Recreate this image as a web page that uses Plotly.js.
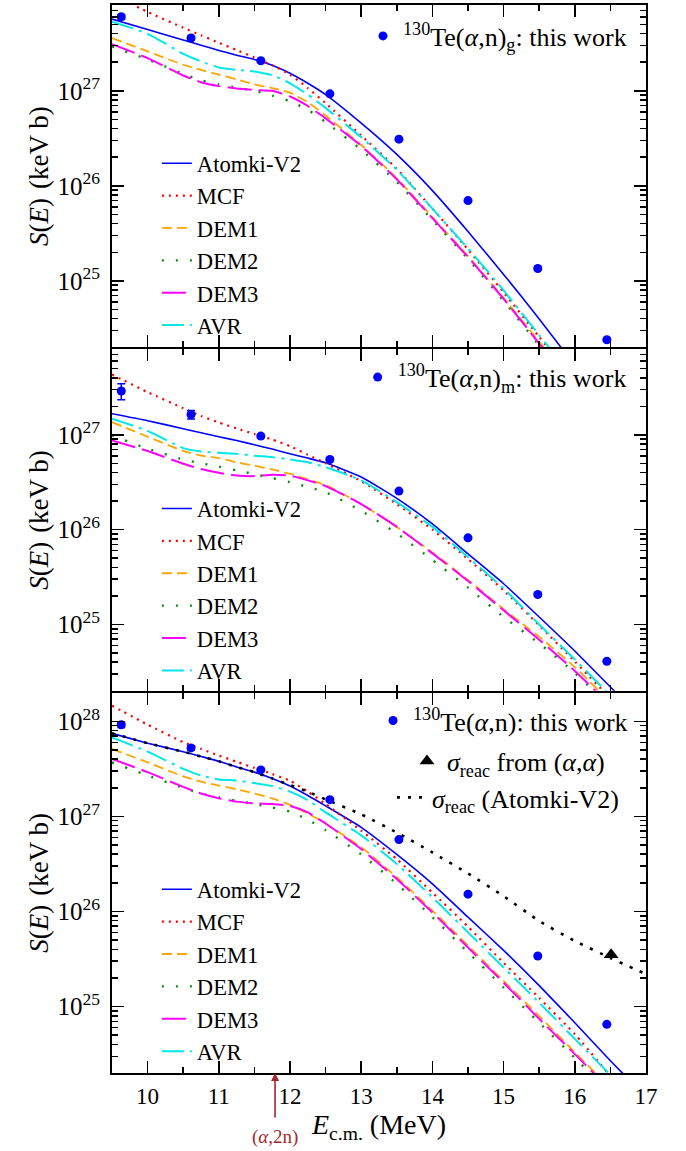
<!DOCTYPE html>
<html><head><meta charset="utf-8">
<script src="https://cdn.plot.ly/plotly-3.0.1.min.js"></script>
<style>html,body{margin:0;padding:0;background:#fff}</style>
</head><body><div id="chart" style="width:686px;height:1151px"></div>
<script>
// ---------- energy grid of the model curves (MeV) ----------
const energyGrid = [9.5, 10.0, 10.5, 10.75, 11.0, 11.25, 11.5, 11.75, 12.0, 12.25, 12.5, 13.0, 13.5, 14.0, 14.5, 15.0, 15.5, 16.0, 16.5, 17.0];

// ---------- top panel: 130Te(a,n)g ----------
const gAtomki = [5.69e27, 4.42e27, 3.43e27, 3.02e27, 2.66e27, 2.37e27, 2.14e27, 1.86e27, 1.53e27, 1.20e27, 9.12e26, 4.57e26, 2.14e26, 8.91e25, 3.31e25, 1.17e25, 3.98e24, 1.29e24];
const gMCF    = [1.05e28, 6.76e27, 4.62e27, 3.85e27, 3.20e27, 2.69e27, 2.24e27, 1.86e27, 1.48e27, 1.07e27, 7.41e26, 3.39e26, 1.51e26, 5.75e25, 2.14e25, 7.59e24, 2.57e24, 8.91e23];
const gDEM1   = [3.59e27, 2.60e27, 1.88e27, 1.66e27, 1.48e27, 1.32e27, 1.17e27, 1.07e27, 9.55e26, 7.59e26, 5.50e26, 2.69e26, 1.20e26, 4.68e25, 1.82e25, 6.61e24, 2.29e24, 7.94e23];
const gDEM2   = [2.92e27, 2.14e27, 1.51e27, 1.29e27, 1.17e27, 1.08e27, 1.00e27, 8.91e26, 7.76e26, 6.31e26, 4.68e26, 2.40e26, 1.10e26, 4.37e25, 1.70e25, 6.17e24, 2.09e24, 7.24e23];
const gDEM3   = [3.09e27, 2.21e27, 1.45e27, 1.23e27, 1.12e27, 1.06e27, 1.02e27, 1.00e27, 8.71e26, 6.92e26, 5.13e26, 2.63e26, 1.17e26, 4.57e25, 1.78e25, 6.46e24, 2.19e24, 7.59e23];
const gAVR    = [5.33e27, 3.98e27, 2.45e27, 2.04e27, 1.76e27, 1.66e27, 1.60e27, 1.46e27, 1.20e27, 9.12e26, 6.61e26, 3.24e26, 1.48e26, 5.75e25, 2.19e25, 7.94e24, 2.69e24, 9.12e23];

// ---------- middle panel: 130Te(a,n)m ----------
const mAtomki = [1.67e27, 1.41e27, 1.16e27, 1.05e27, 9.55e26, 8.71e26, 7.85e26, 7.08e26, 6.31e26, 5.69e26, 5.07e26, 3.59e26, 2.14e26, 1.15e26, 5.56e25, 2.69e25, 1.20e25, 5.25e24, 2.19e24, 9.12e23];
const mMCF    = [4.32e27, 2.82e27, 1.91e27, 1.58e27, 1.35e27, 1.17e27, 1.02e27, 8.91e26, 7.59e26, 6.17e26, 5.01e26, 3.24e26, 1.86e26, 1.00e26, 4.90e25, 2.29e25, 9.77e24, 4.07e24, 1.66e24];
const mDEM1   = [1.36e27, 9.55e26, 6.76e26, 6.03e26, 5.69e26, 5.13e26, 4.73e26, 4.32e26, 3.89e26, 3.39e26, 2.95e26, 1.86e26, 1.07e26, 5.75e25, 2.95e25, 1.45e25, 7.41e24, 3.55e24, 1.51e24];
const mDEM2   = [9.89e26, 7.16e26, 5.50e26, 5.01e26, 4.62e26, 4.22e26, 3.85e26, 3.51e26, 3.16e26, 2.82e26, 2.48e26, 1.58e26, 9.12e25, 4.79e25, 2.45e25, 1.20e25, 6.31e24, 3.09e24, 1.32e24];
const mDEM3   = [8.71e26, 6.76e26, 4.95e26, 4.37e26, 3.98e26, 3.72e26, 3.67e26, 3.80e26, 3.72e26, 3.31e26, 2.88e26, 1.86e26, 1.07e26, 5.62e25, 2.88e25, 1.41e25, 6.92e24, 3.24e24, 1.41e24];
const mAVR    = [1.48e27, 1.10e27, 7.24e26, 6.68e26, 6.46e26, 6.31e26, 6.03e26, 5.82e26, 5.50e26, 5.13e26, 4.57e26, 3.31e26, 1.95e26, 1.07e26, 5.13e25, 2.40e25, 1.00e25, 4.27e24, 1.78e24];

// ---------- bottom panel: 130Te(a,n) total ----------
const tAtomki = [7.48e27, 5.89e27, 4.79e27, 4.27e27, 3.80e27, 3.31e27, 2.92e27, 2.51e27, 2.09e27, 1.66e27, 1.29e27, 7.67e26, 3.98e26, 1.95e26, 8.71e25, 3.89e25, 1.66e25, 6.76e24, 2.69e24, 1.12e24];
const tMCF    = [1.46e28, 9.23e27, 6.03e27, 5.13e27, 4.37e27, 3.76e27, 3.24e27, 2.79e27, 2.37e27, 1.82e27, 1.35e27, 7.08e26, 3.55e26, 1.58e26, 6.92e25, 2.88e25, 1.23e25, 5.13e24, 1.86e24];
const tDEM1   = [5.12e27, 3.70e27, 2.63e27, 2.32e27, 2.11e27, 1.93e27, 1.74e27, 1.55e27, 1.32e27, 1.07e27, 8.41e26, 4.73e26, 2.29e26, 1.02e26, 4.37e25, 1.86e25, 7.94e24, 3.31e24, 1.38e24];
const tDEM2   = [3.70e27, 2.69e27, 2.00e27, 1.74e27, 1.58e27, 1.46e27, 1.35e27, 1.24e27, 1.12e27, 9.23e26, 7.16e26, 3.98e26, 1.95e26, 8.71e25, 3.72e25, 1.58e25, 6.76e24, 2.88e24, 1.23e24];
const tDEM3   = [4.02e27, 2.92e27, 2.04e27, 1.74e27, 1.55e27, 1.43e27, 1.37e27, 1.35e27, 1.29e27, 1.10e27, 8.41e26, 4.53e26, 2.19e26, 9.77e25, 4.17e25, 1.78e25, 7.41e24, 3.16e24, 1.32e24];
const tAVR    = [6.76e27, 4.79e27, 3.16e27, 2.69e27, 2.45e27, 2.38e27, 2.24e27, 2.09e27, 1.82e27, 1.48e27, 1.10e27, 6.31e26, 3.16e26, 1.41e26, 6.03e25, 2.57e25, 1.10e25, 4.57e24, 1.91e24];
const tSigmaReac = [7.48e27, 5.89e27, 4.79e27, 4.27e27, 3.80e27, 3.31e27, 2.92e27, 2.51e27, 2.14e27, 1.82e27, 1.51e27, 1.05e27, 6.76e26, 4.17e26, 2.51e26, 1.45e26, 7.94e25, 4.90e25, 3.24e25, 2.19e25];

// ---------- measured points ----------
const dataEnergy = [9.63, 10.61, 11.59, 12.56, 13.53, 14.50, 15.48, 16.45];
const gData = [6.0e27, 3.6e27, 2.07e27, 9.3e26, 3.1e26, 7.0e25, 1.35e25, 2.4e24];
const gErr  = [0.35e27, 0.15e27, 0.07e27, 0.3e26, 0.1e26, 0.2e25, 0.04e25, 0.08e24];
const mData = [2.9e27, 1.64e27, 9.7e26, 5.5e26, 2.55e26, 8.2e25, 2.07e25, 4.1e24];
const mErr  = [0.55e27, 0.17e27, 0.4e26, 0.2e26, 0.08e26, 0.25e25, 0.06e25, 0.12e24];
const tData = [9.2e27, 5.25e27, 3.08e27, 1.5e27, 5.7e26, 1.52e26, 3.4e25, 6.5e24];
const tErr  = [0.6e27, 0.25e27, 0.1e27, 0.5e26, 0.15e26, 0.4e25, 0.09e25, 0.18e24];
const elasticEnergy = [16.51];
const elasticSigmaReac = [3.5e25];
const alpha2nThreshold = 11.79;

// ---------- labels ----------
const modelNames = ['Atomki-V2', 'MCF', 'DEM1', 'DEM2', 'DEM3', 'AVR'];
const panelLabels = [
  '<sup>130</sup>Te(<i>α</i>,n)<sub>g</sub>: this work',
  '<sup>130</sup>Te(<i>α</i>,n)<sub>m</sub>: this work',
  '<sup>130</sup>Te(<i>α</i>,n): this work'
];
const sigmaFromElastic = '<i>σ</i><sub>reac</sub> from (<i>α</i>,<i>α</i>)';
const sigmaAtomki = '<i>σ</i><sub>reac</sub> (Atomki-V2)';
const yTitle = '<i>S</i>(<i>E</i>) \u200a(keV b)';
const xTitle = '<i>E</i><sub>c.m.</sub> (MeV)';
const xTickVals = [10, 11, 12, 13, 14, 15, 16, 17];

const FONT = 'Liberation Serif';
const modelStyles = [
  {color: '#0000ff', width: 1.6, dash: 'solid'},
  {color: '#ff0000', width: 2.2, dash: '2px,5px'},
  {color: '#ffa500', width: 1.8, dash: '10px,5px'},
  {color: '#0a8a0a', width: 2.4, dash: '2px,12px'},
  {color: '#ff00ff', width: 2.0, dash: '24px,7px'},
  {color: '#00e8e8', width: 2.0, dash: '22px,6px,3px,6px'}
];

function modelTraces(series, xa, ya, legendId) {
  return series.map((vals, i) => ({
    type: 'scatter', mode: 'lines', x: energyGrid, y: vals,
    xaxis: xa, yaxis: ya, name: modelNames[i], legend: legendId,
    line: Object.assign({shape: 'spline', smoothing: 0.5}, modelStyles[i]),
    hoverinfo: 'skip'
  }));
}
function dataTrace(y, err, xa, ya, legendId, name) {
  return {
    type: 'scatter', mode: 'markers', x: dataEnergy, y: y, xaxis: xa, yaxis: ya,
    name: name, legend: legendId,
    marker: {color: '#0000ff', size: 9},
    error_y: {type: 'data', array: err, visible: true, color: '#0000ff', thickness: 1.5, width: 4},
    hoverinfo: 'skip'
  };
}

const traces = [].concat(
  modelTraces([gAtomki, gMCF, gDEM1, gDEM2, gDEM3, gAVR], 'x', 'y', 'legend'),
  modelTraces([mAtomki, mMCF, mDEM1, mDEM2, mDEM3, mAVR], 'x2', 'y2', 'legend3'),
  modelTraces([tAtomki, tMCF, tDEM1, tDEM2, tDEM3, tAVR], 'x3', 'y3', 'legend5'),
  [{
    type: 'scatter', mode: 'lines', x: energyGrid, y: tSigmaReac, xaxis: 'x3', yaxis: 'y3',
    name: sigmaAtomki, legend: 'legend8',
    line: {color: '#000000', width: 2.6, dash: '3px,8px', shape: 'spline', smoothing: 0.5},
    hoverinfo: 'skip'
  },
  dataTrace(gData, gErr, 'x', 'y', 'legend2', panelLabels[0]),
  dataTrace(mData, mErr, 'x2', 'y2', 'legend4', panelLabels[1]),
  dataTrace(tData, tErr, 'x3', 'y3', 'legend6', panelLabels[2]),
  {
    type: 'scatter', mode: 'markers', x: elasticEnergy, y: elasticSigmaReac, xaxis: 'x3', yaxis: 'y3',
    name: sigmaFromElastic, legend: 'legend7',
    marker: {color: '#000000', size: 13, symbol: 'triangle-up'},
    hoverinfo: 'skip'
  }]
);

function xAxis(anchor, showLabels) {
  const a = {
    anchor: anchor, domain: [0, 1], range: [9.5, 17],
    showline: true, linecolor: '#000', linewidth: 2, mirror: 'ticks',
    ticks: 'inside', ticklen: 12, tickwidth: 1.5, tickcolor: '#000',
    tickvals: xTickVals, showticklabels: showLabels,
    minor: {ticks: 'inside', ticklen: 6, tickwidth: 1.5, tickcolor: '#000', dtick: 0.5, tick0: 9.5},
    showgrid: false, zeroline: false,
    tickfont: {family: FONT, size: 23, color: '#000'}, ticklabelstandoff: 1
  };
  if (showLabels) a.title = {text: xTitle, font: {family: FONT, size: 28, color: '#000'}, standoff: 7};
  return a;
}
function yAxis(anchor, domain, range) {
  return {
    anchor: anchor, domain: domain, type: 'log', range: range,
    showline: true, linecolor: '#000', linewidth: 2, mirror: 'ticks',
    ticks: 'inside', ticklen: 12, tickwidth: 1.5, tickcolor: '#000',
    dtick: 1, exponentformat: 'power',
    minor: {ticks: 'inside', ticklen: 6, tickwidth: 1.5, tickcolor: '#000', dtick: 'D1'},
    showgrid: false, zeroline: false,
    // power-format log labels are drawn 1.25x larger by Plotly
    tickfont: {family: FONT, size: 20, color: '#000'}, ticklabelstandoff: 6,
    title: {text: yTitle, font: {family: FONT, size: 27, color: '#000'}, standoff: 1}
  };
}
function legendBox(x, y, size) {
  return {x: x, y: y, xanchor: 'left', yanchor: 'top', bgcolor: 'rgba(0,0,0,0)', borderwidth: 0,
          font: {family: FONT, size: size, color: '#000'}, traceorder: 'normal', itemclick: false, itemdoubleclick: false};
}

const layout = {
  width: 686, height: 1151,
  margin: {l: 112, r: 40, t: 5, b: 78, pad: 0},
  paper_bgcolor: '#fff', plot_bgcolor: '#fff',
  font: {family: FONT, color: '#000'},
  showlegend: true,
  xaxis: xAxis('y', false),
  yaxis: yAxis('x', [0.6795, 1], [24.301, 27.903]),
  xaxis2: xAxis('y2', false),
  yaxis2: yAxis('x2', [0.3579, 0.6777], [24.301, 27.903]),
  xaxis3: xAxis('y3', true),
  yaxis3: yAxis('x3', [0, 0.3561], [24.301, 28.301]),
  legend: legendBox(0.084, 0.8717, 22.6),
  legend3: legendBox(0.084, 0.5484, 22.6),
  legend5: legendBox(0.084, 0.1919, 22.6),
  legend2: legendBox(0.470, 0.9930, 26),
  legend4: legendBox(0.460, 0.6735, 26),
  legend6: legendBox(0.4888, 0.3520, 26),
  legend7: legendBox(0.5524, 0.3140, 26),
  legend8: legendBox(0.5243, 0.2800, 26),
  annotations: [{
    x: alpha2nThreshold, xref: 'x3', y: 0, yref: 'paper',
    text: '(<i>α</i>,2n)', showarrow: true, ax: 0, ay: 64,
    arrowcolor: '#a0282d', arrowhead: 2, arrowsize: 1, arrowwidth: 1.6, startstandoff: 7, standoff: 0,
    font: {family: FONT, size: 19, color: '#a52a2a'}
  }]
};

Plotly.newPlot('chart', traces, layout, {staticPlot: true, displayModeBar: false});
</script>
</body></html>
